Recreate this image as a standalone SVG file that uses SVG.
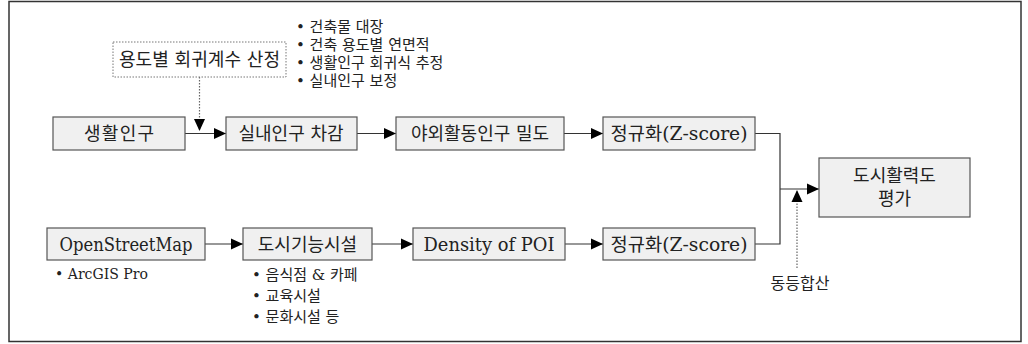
<svg xmlns="http://www.w3.org/2000/svg" width="1028" height="344" viewBox="0 0 1028 344">
<defs>
<style>
.box{fill:#f0f0f0;stroke:#555;stroke-width:1.2}
.dbox{fill:#fff;stroke:#777;stroke-width:1;stroke-dasharray:1.5 1.5}
.lbl{font-family:"DejaVu Serif","Noto Sans CJK KR",serif;font-size:18px;fill:#222;text-anchor:middle}
.bul{font-family:"DejaVu Serif","Noto Sans CJK KR",serif;font-size:15px;fill:#222}
.ln{fill:none;stroke:#333;stroke-width:1.2}
.dl{fill:none;stroke:#666;stroke-width:1.2;stroke-dasharray:1.5 1.5}
</style>
<marker id="ah" markerUnits="userSpaceOnUse" markerWidth="12" markerHeight="12" viewBox="0 0 12 12" refX="12" refY="6" orient="auto">
<path d="M0,0.5 L12,6 L0,11.5 Z" fill="#000"/>
</marker>
</defs>
<rect x="9" y="1.5" width="1012" height="340" fill="#fff" stroke="#333" stroke-width="1.5"/>

<g id="connectors">
<path class="ln" d="M185,133.5 H226" marker-end="url(#ah)"/>
<path class="ln" d="M357,133.5 H396" marker-end="url(#ah)"/>
<path class="ln" d="M564,133.5 H603" marker-end="url(#ah)"/>
<path class="ln" d="M755,133.5 H780 V244 H755"/>
<path class="ln" d="M780,189 H819" marker-end="url(#ah)"/>
<path class="ln" d="M205,244 H243" marker-end="url(#ah)"/>
<path class="ln" d="M372,244 H413" marker-end="url(#ah)"/>
<path class="ln" d="M565,244 H603" marker-end="url(#ah)"/>
<path class="dl" d="M199.5,77 V131" marker-end="url(#ah)"/>
<path class="dl" d="M797,268 V190" marker-end="url(#ah)"/>
</g>

<g id="n-coef">
<rect class="dbox" x="113" y="42" width="173" height="35"/>
<text class="lbl" x="199.5" y="66" textLength="161" lengthAdjust="spacingAndGlyphs">용도별 회귀계수 산정</text>
</g>
<g id="n-notes-top">
<text class="bul" x="296" y="31.5">• 건축물 대장</text>
<text class="bul" x="296" y="49.5">• 건축 용도별 연면적</text>
<text class="bul" x="296" y="67.5">• 생활인구 회귀식 추정</text>
<text class="bul" x="296" y="85.5">• 실내인구 보정</text>
</g>
<g id="n-pop">
<rect class="box" x="53" y="117" width="132" height="33"/>
<text class="lbl" x="119" y="140" textLength="70" lengthAdjust="spacing">생활인구</text>
</g>
<g id="n-indoor">
<rect class="box" x="226" y="117" width="131" height="33"/>
<text class="lbl" x="291" y="140">실내인구 차감</text>
</g>
<g id="n-outdoor">
<rect class="box" x="396" y="117" width="168" height="33"/>
<text class="lbl" x="480" y="140">야외활동인구 밀도</text>
</g>
<g id="n-norm1">
<rect class="box" x="603" y="117" width="152" height="33"/>
<text class="lbl" x="679" y="140" textLength="137" lengthAdjust="spacingAndGlyphs">정규화(Z-score)</text>
</g>
<g id="n-vitality">
<rect class="box" x="819" y="158" width="151" height="59"/>
<text class="lbl" x="894.5" y="181.5">도시활력도</text>
<text class="lbl" x="894.5" y="205">평가</text>
</g>
<g id="n-osm">
<rect class="box" x="47" y="228" width="158" height="32"/>
<text class="lbl" x="126" y="250.5" textLength="133" lengthAdjust="spacingAndGlyphs">OpenStreetMap</text>
</g>
<g id="n-osm-note">
<text class="bul" x="55" y="279" textLength="93" lengthAdjust="spacingAndGlyphs">• ArcGIS Pro</text>
</g>
<g id="n-facility">
<rect class="box" x="243" y="228" width="129" height="32"/>
<text class="lbl" x="307.5" y="250.5">도시기능시설</text>
</g>
<g id="n-facility-note">
<text class="bul" x="252" y="280">• 음식점 &amp; 카페</text>
<text class="bul" x="252" y="301">• 교육시설</text>
<text class="bul" x="252" y="322">• 문화시설 등</text>
</g>
<g id="n-density">
<rect class="box" x="413" y="228" width="152" height="32"/>
<text class="lbl" x="489" y="250.5" textLength="131" lengthAdjust="spacingAndGlyphs">Density of POI</text>
</g>
<g id="n-norm2">
<rect class="box" x="603" y="228" width="152" height="32"/>
<text class="lbl" x="679" y="250.5" textLength="137" lengthAdjust="spacingAndGlyphs">정규화(Z-score)</text>
</g>
<g id="n-sum">
<text class="bul" x="800" y="288.5" text-anchor="middle" style="font-size:16px">동등합산</text>
</g>
</svg>
